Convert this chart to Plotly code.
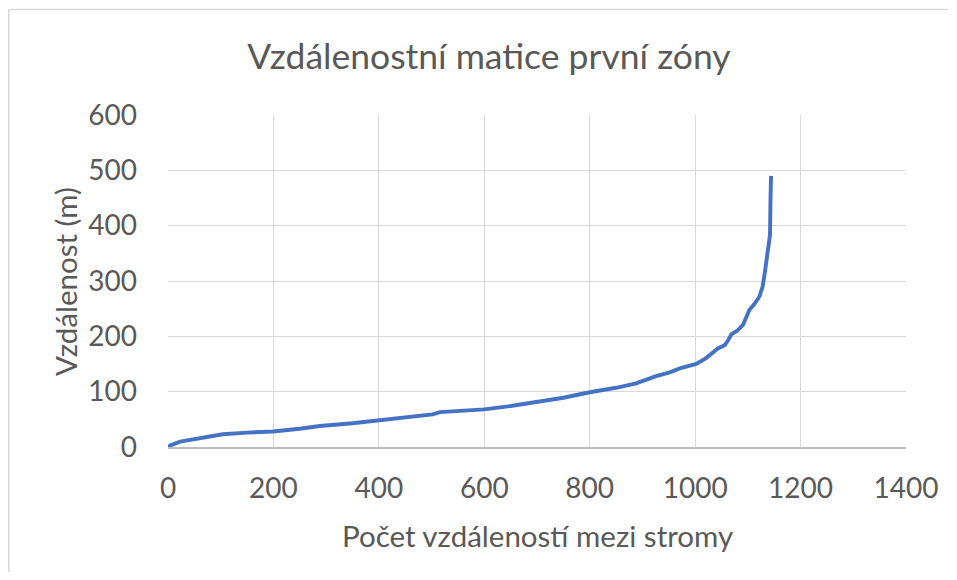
import plotly.graph_objects as go

pocet = [0, 5, 23, 50, 80, 104, 150, 199, 250, 288, 350, 398, 450, 502, 516, 560, 600,
         650, 699, 750, 800, 850, 888, 926, 952, 971, 1002, 1020, 1043, 1056, 1062, 1069,
         1080, 1091, 1103, 1112, 1122, 1128, 1132, 1136, 1138, 1142, 1143, 1144]
vzdalenost = [0, 3, 9.6, 14, 18, 23, 26, 28, 33, 38, 43, 48, 54, 59, 63, 65, 68,
              74, 81, 89, 99, 107, 115, 128, 135, 142, 150, 160, 178, 184, 192, 204,
              210, 221, 248, 258, 272, 290, 314, 340, 359, 383, 450, 490]

title_text = "Vzdálenostní matice první zóny"
x_title = "Počet vzdáleností mezi stromy"
y_title = "Vzdálenost (m)"

font_family = "Lato, 'Open Sans', sans-serif"
txt = "#595959"

fig = go.Figure()
fig.add_trace(go.Scatter(x=pocet, y=vzdalenost, mode="lines",
                         line=dict(color="#4472C4", width=3.9), hoverinfo="skip"))

W, H = 941, 564
L, T = 160, 107
R, B = W - 898, H - 439
pw, ph = W - L - R, H - T - B

border = dict(color="#d9d9d9", width=1.5)
x_left = (0.75 - L) / pw
y_top = (439 - 1.5) / ph

fig.update_layout(
    width=W, height=H,
    margin=dict(l=L, r=R, t=T, b=B, autoexpand=False),
    paper_bgcolor="white", plot_bgcolor="white",
    showlegend=False,
    font=dict(family=font_family, color=txt),
    title=dict(text=title_text, x=481 / W, xanchor="center", y=1 - 49 / H, yanchor="middle",
               font=dict(size=35.5, color=txt, family=font_family)),
    xaxis=dict(range=[0, 1400], dtick=200, showgrid=True, gridcolor="#d9d9d9", gridwidth=1.3,
               zeroline=False, showline=True, linecolor="#bfbfbf", linewidth=1.5,
               ticks="", tickfont=dict(size=28, color=txt), ticklabelstandoff=16,
               fixedrange=True),
    yaxis=dict(range=[0, 600], dtick=100, showgrid=True, gridcolor="#d9d9d9", gridwidth=1.3,
               zeroline=False, showline=False,
               ticks="", tickfont=dict(size=28, color=txt), ticklabelstandoff=30,
               fixedrange=True),
    annotations=[
        dict(text=x_title, xref="paper", yref="paper", x=0.5, y=(439 - 527) / ph,
             xanchor="center", yanchor="middle", showarrow=False,
             font=dict(size=29.5, color=txt, family=font_family)),
        dict(text=y_title, xref="paper", yref="paper", x=(57 - L) / pw, y=0.5,
             xanchor="center", yanchor="middle", showarrow=False, textangle=-90,
             font=dict(size=29.5, color=txt, family=font_family)),
    ],
    shapes=[
        dict(type="line", xref="paper", yref="paper", x0=x_left, x1=x_left,
             y0=(439 - 620) / ph, y1=y_top, line=border, layer="below"),
        dict(type="line", xref="paper", yref="paper", x0=x_left, x1=(W - 1 - L) / pw,
             y0=y_top, y1=y_top, line=border, layer="below"),
    ],
)

fig.write_html("out.html", config={"displayModeBar": False})
